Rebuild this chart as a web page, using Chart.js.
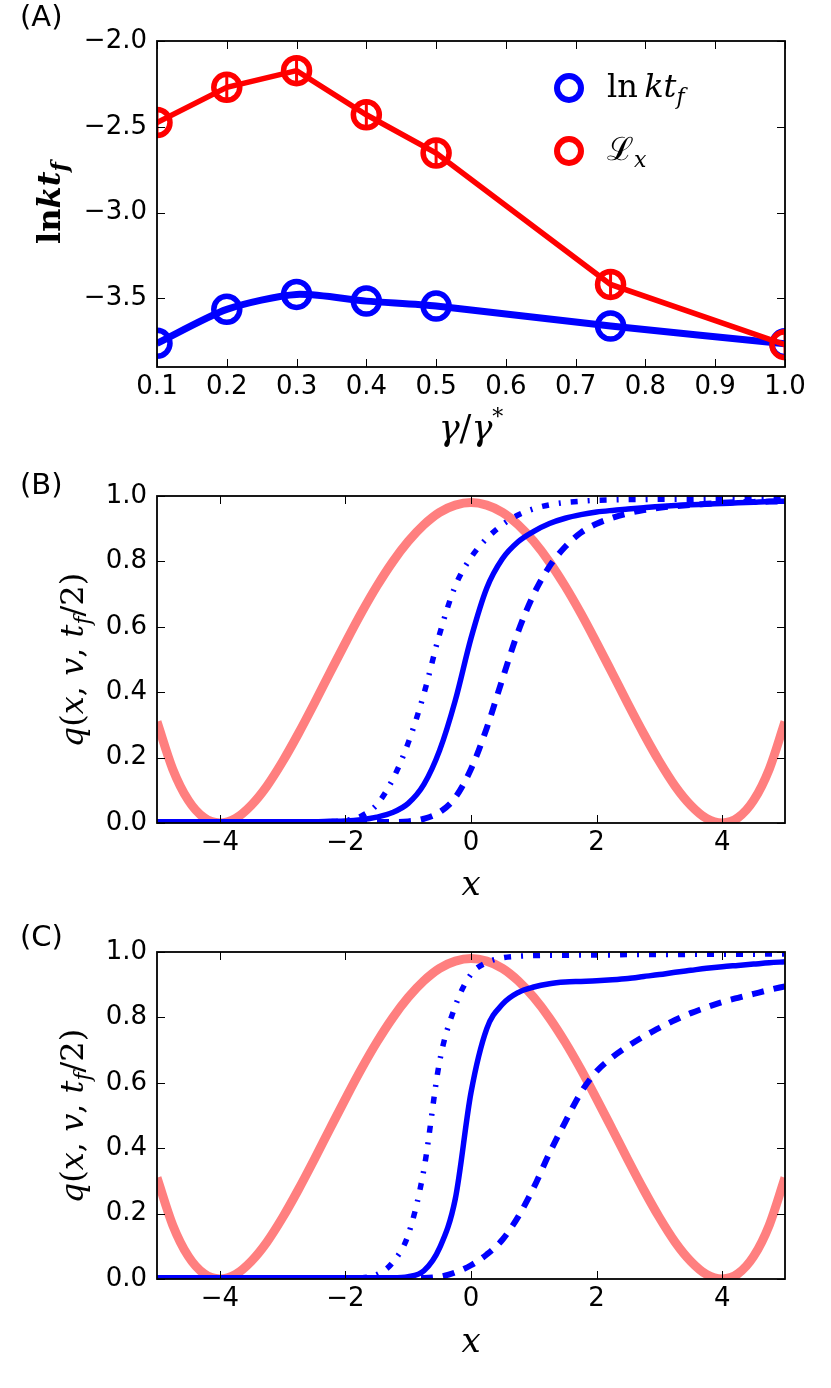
<!DOCTYPE html>
<html>
<head>
<meta charset="utf-8">
<script src="https://cdn.jsdelivr.net/npm/chart.js@4.4.0/dist/chart.umd.min.js"></script>
<style>
html,body{margin:0;padding:0;background:#fff;}
#wrap{position:relative;width:831px;height:1388px;background:#fff;}
.pane{position:absolute;left:0;width:831px;}
canvas{display:block;}
</style>
</head>
<body>
<div id="wrap">
  <div class="pane" style="top:0px;height:460px"><canvas id="cA" width="831" height="460" style="width:831px;height:460px"></canvas></div>
  <div class="pane" style="top:460px;height:460px"><canvas id="cB" width="831" height="460" style="width:831px;height:460px"></canvas></div>
  <div class="pane" style="top:920px;height:468px"><canvas id="cC" width="831" height="468" style="width:831px;height:468px"></canvas></div>
</div>
<script>
// ---------------- DATA ----------------
// Panel A
const gammaRatio = [0.1, 0.2, 0.3, 0.4, 0.5, 0.75, 1.0];
const lnKtf      = [-3.762, -3.564, -3.477, -3.516, -3.545, -3.661, -3.765];
const lossX      = [-2.475, -2.270, -2.173, -2.430, -2.653, -3.419, -3.770];
const lossXErr   = [0.07, 0.07, 0.07, 0.07, 0.07, 0.07, 0.07];
const xTicksA    = [0.1, 0.2, 0.3, 0.4, 0.5, 0.6, 0.7, 0.8, 0.9, 1.0];
const yTicksA    = [-3.5, -3.0, -2.5, -2.0];

// Panels B and C (shared x grid)
const xGrid = [-5,-4.75,-4.5,-4.25,-4,-3.75,-3.5,-3.25,-3,-2.75,-2.5,-2.25,-2,-1.75,-1.5,-1.25,-1,-0.75,-0.5,-0.25,0,0.25,0.5,0.75,1,1.25,1.5,1.75,2,2.25,2.5,2.75,3,3.25,3.5,3.75,4,4.25,4.5,4.75,5];
const potential = [0.310,0.165,0.069,0.016,0.000,0.014,0.054,0.113,0.188,0.273,0.364,0.458,0.551,0.641,0.724,0.798,0.861,0.912,0.950,0.972,0.980,0.972,0.950,0.912,0.861,0.798,0.724,0.641,0.551,0.458,0.364,0.273,0.188,0.113,0.054,0.014,0.000,0.016,0.069,0.165,0.310];

const qSolidB   = [0.004,0.004,0.004,0.004,0.004,0.004,0.004,0.004,0.004,0.004,0.004,0.005,0.006,0.010,0.018,0.032,0.060,0.118,0.222,0.375,0.565,0.718,0.808,0.860,0.892,0.916,0.932,0.943,0.951,0.956,0.960,0.964,0.968,0.971,0.973,0.975,0.977,0.979,0.981,0.983,0.984];
const qDashDotB = [0.003,0.003,0.003,0.003,0.003,0.003,0.003,0.003,0.003,0.003,0.003,0.004,0.008,0.021,0.056,0.132,0.245,0.395,0.578,0.725,0.812,0.870,0.912,0.942,0.961,0.973,0.980,0.984,0.987,0.988,0.989,0.989,0.990,0.990,0.990,0.991,0.991,0.991,0.992,0.992,0.992];
const qDashedB  = [0.003,0.003,0.003,0.003,0.003,0.003,0.003,0.003,0.003,0.003,0.003,0.003,0.003,0.003,0.003,0.003,0.005,0.013,0.033,0.078,0.165,0.290,0.440,0.585,0.700,0.785,0.845,0.888,0.915,0.933,0.947,0.957,0.964,0.969,0.973,0.976,0.979,0.981,0.982,0.983,0.984];

const qSolidC   = [0.004,0.004,0.004,0.004,0.004,0.004,0.004,0.004,0.004,0.004,0.004,0.004,0.004,0.004,0.004,0.004,0.007,0.025,0.095,0.245,0.570,0.765,0.840,0.876,0.893,0.903,0.908,0.910,0.912,0.915,0.919,0.925,0.931,0.938,0.944,0.950,0.955,0.959,0.963,0.967,0.970];
const qDashDotC = [0.002,0.002,0.002,0.002,0.002,0.002,0.002,0.002,0.002,0.002,0.002,0.002,0.002,0.004,0.013,0.050,0.135,0.335,0.665,0.835,0.932,0.968,0.982,0.987,0.989,0.990,0.990,0.991,0.991,0.991,0.992,0.992,0.992,0.992,0.993,0.993,0.993,0.993,0.993,0.994,0.994];
const qDashedC  = [0.003,0.003,0.003,0.003,0.003,0.003,0.003,0.003,0.003,0.003,0.003,0.003,0.003,0.003,0.003,0.003,0.003,0.003,0.007,0.020,0.042,0.075,0.120,0.190,0.280,0.385,0.480,0.570,0.635,0.678,0.712,0.742,0.768,0.792,0.813,0.831,0.847,0.860,0.872,0.884,0.895];

const xTicksBC = [-4, -2, 0, 2, 4];
const yTicksBC = [0.0, 0.2, 0.4, 0.6, 0.8, 1.0];

// ---------------- HELPERS ----------------
const SANS = 'DejaVu Sans';
const SERIF = 'DejaVu Serif';
const BLUE = '#0000ff';
const RED = '#ff0000';
const SALMON = '#ff7f7f';
const MINUS = '\u2212';

function fmt1(v){ const s = Math.abs(v).toFixed(1); return (v < -1e-9 ? MINUS : '') + s; }
function fmt0(v){ const s = Math.abs(Math.round(v)).toString(); return (v < -1e-9 ? MINUS : '') + s; }
function pts(xs, ys){ return xs.map((x, i) => ({x: x, y: ys[i]})); }

function fontStr(p){
  return (p.it ? 'italic ' : '') + (p.b ? 'bold ' : '') + (p.s || 32) + 'px "' + (p.f || SERIF) + '"';
}
function richText(ctx, parts, x, y, align, rot){
  ctx.save();
  ctx.translate(x, y);
  if (rot) ctx.rotate(rot);
  ctx.textBaseline = 'alphabetic';
  ctx.textAlign = 'left';
  ctx.fillStyle = '#000';
  let total = 0;
  const ws = parts.map(p => { ctx.font = fontStr(p); const w = ctx.measureText(p.t).width + (p.dx || 0); total += w; return w; });
  let cx = align === 'center' ? -total / 2 : 0;
  parts.forEach((p, i) => { ctx.font = fontStr(p); ctx.fillText(p.t, cx + (p.dx || 0), p.dy || 0); cx += ws[i]; });
  ctx.restore();
}

const framePlugin = {
  id: 'frame',
  afterDatasetsDraw(chart){
    const ctx = chart.ctx, a = chart.chartArea, xs = chart.scales.x, ys = chart.scales.y;
    const L = 8;
    ctx.save();
    ctx.strokeStyle = '#000';
    ctx.lineWidth = 1;
    ctx.beginPath();
    xs.ticks.forEach(t => {
      const px = Math.round(xs.getPixelForValue(t.value)) + 0.5;
      ctx.moveTo(px, a.bottom); ctx.lineTo(px, a.bottom - L);
      ctx.moveTo(px, a.top); ctx.lineTo(px, a.top + L);
    });
    ys.ticks.forEach(t => {
      const py = Math.round(ys.getPixelForValue(t.value)) + 0.5;
      ctx.moveTo(a.left, py); ctx.lineTo(a.left + L, py);
      ctx.moveTo(a.right, py); ctx.lineTo(a.right - L, py);
    });
    ctx.stroke();
    ctx.lineWidth = 1.8;
    ctx.strokeRect(a.left, a.top, a.right - a.left, a.bottom - a.top);
    ctx.restore();
  }
};

function makeScales(H, bottom, xr, yr, xt, yt, xf, yf){
  const tickFont = {family: SANS, size: 26};
  return {
    x: {
      type: 'linear', min: xr[0], max: xr[1],
      afterBuildTicks: s => { s.ticks = xt.map(v => ({value: v})); },
      afterFit: s => { s.height = H - bottom; },
      ticks: {font: tickFont, color: '#000', padding: 5, maxRotation: 0, autoSkip: false, callback: v => xf(v)},
      grid: {display: false, drawTicks: false},
      border: {display: false}
    },
    y: {
      type: 'linear', min: yr[0], max: yr[1],
      afterBuildTicks: s => { s.ticks = yt.map(v => ({value: v})); },
      afterFit: s => { s.width = 157; },
      ticks: {font: tickFont, color: '#000', padding: 10, autoSkip: false, callback: v => yf(v)},
      grid: {display: false, drawTicks: false},
      border: {display: false}
    }
  };
}

function baseOptions(top, scales){
  return {
    responsive: false,
    animation: false,
    events: [],
    layout: {padding: {top: top, right: 46, left: 0, bottom: 0}},
    plugins: {legend: {display: false}, tooltip: {enabled: false}, title: {display: false}},
    scales: scales
  };
}

// ---------------- PANEL A ----------------
const errPlugin = {
  id: 'errA',
  beforeDatasetsDraw(chart){
    const ctx = chart.ctx, a = chart.chartArea, xs = chart.scales.x, ys = chart.scales.y;
    ctx.save();
    ctx.beginPath(); ctx.rect(a.left, a.top, a.right - a.left, a.bottom - a.top); ctx.clip();
    ctx.strokeStyle = RED; ctx.lineWidth = 3;
    ctx.beginPath();
    gammaRatio.forEach((g, i) => {
      const px = xs.getPixelForValue(g);
      const p1 = ys.getPixelForValue(lossX[i] - lossXErr[i]);
      const p2 = ys.getPixelForValue(lossX[i] + lossXErr[i]);
      ctx.moveTo(px, p1); ctx.lineTo(px, p2);
      ctx.moveTo(px - 6, p1); ctx.lineTo(px + 6, p1);
      ctx.moveTo(px - 6, p2); ctx.lineTo(px + 6, p2);
    });
    ctx.stroke();
    ctx.restore();
  }
};
const decorA = {
  id: 'decorA',
  afterDraw(chart){
    const ctx = chart.ctx;
    richText(ctx, [{t: '(A)', f: SANS, s: 29}], 20, 26, 'left');
    // legend
    ctx.save();
    ctx.lineWidth = 6;
    ctx.strokeStyle = BLUE; ctx.beginPath(); ctx.arc(569, 88, 12, 0, 2 * Math.PI); ctx.stroke();
    ctx.strokeStyle = RED;  ctx.beginPath(); ctx.arc(569, 151, 12, 0, 2 * Math.PI); ctx.stroke();
    ctx.restore();
    richText(ctx, [{t: 'ln', s: 32}, {t: ' ', s: 20}, {t: 'kt', it: true, s: 32}, {t: 'f', it: true, s: 22, dy: 7}], 607, 97, 'left');
    richText(ctx, [{t: '\u2112', s: 32}, {t: 'x', it: true, s: 22, dy: 7}], 607, 160, 'left');
    // axis titles
    richText(ctx, [{t: 'γ', it: true, s: 35}, {t: '/', s: 35}, {t: 'γ', it: true, s: 35}, {t: '*', s: 22, dy: -16}], 471, 440, 'center');
    richText(ctx, [{t: 'ln', b: true, s: 32}, {t: 'kt', b: true, it: true, s: 32}, {t: 'f', b: true, it: true, s: 22, dy: 7}], 60, 203, 'center', -Math.PI / 2);
  }
};

new Chart(document.getElementById('cA'), {
  type: 'line',
  data: {
    datasets: [
      {label: 'L_x', data: pts(gammaRatio, lossX), borderColor: RED, borderWidth: 5.5, pointRadius: 13,
       pointBorderWidth: 5.5, pointBorderColor: RED, pointBackgroundColor: 'rgba(0,0,0,0)', tension: 0, clip: 0, order: 0},
      {label: 'ln kt_f', data: pts(gammaRatio, lnKtf), borderColor: BLUE, borderWidth: 7, pointRadius: 13,
       pointBorderWidth: 5.5, pointBorderColor: BLUE, pointBackgroundColor: 'rgba(0,0,0,0)', tension: 0.25, clip: 0, order: 1}
    ]
  },
  options: baseOptions(41, makeScales(460, 367, [0.1, 1.0], [-3.9, -2.0], xTicksA, yTicksA, fmt1, fmt1)),
  plugins: [errPlugin, framePlugin, decorA]
});

// ---------------- PANELS B, C ----------------
function qDatasets(solid, dashdot, dashed){
  const common = {pointRadius: 0, cubicInterpolationMode: 'monotone', clip: 0, borderCapStyle: 'butt'};
  return [
    Object.assign({label: 'dashdot', data: pts(xGrid, dashdot), borderColor: BLUE, borderWidth: 5.5, borderDash: [7, 10, 2, 10], order: 0}, common),
    Object.assign({label: 'solid', data: pts(xGrid, solid), borderColor: BLUE, borderWidth: 5.5, order: 1}, common),
    Object.assign({label: 'dashed', data: pts(xGrid, dashed), borderColor: BLUE, borderWidth: 6, borderDash: [12, 10], order: 2}, common),
    Object.assign({label: 'potential', data: pts(xGrid, potential), borderColor: SALMON, borderWidth: 9, order: 3}, common)
  ];
}
function qDecor(letter, letterBase, titleY, xTitleBase){
  return {
    id: 'decor' + letter,
    afterDraw(chart){
      const ctx = chart.ctx;
      richText(ctx, [{t: '(' + letter + ')', f: SANS, s: 29}], 20, letterBase, 'left');
      richText(ctx, [{t: 'x', it: true, s: 34}], 471, xTitleBase, 'center');
      richText(ctx, [
        {t: 'q', it: true, s: 32}, {t: '(', s: 32}, {t: 'x', it: true, s: 32}, {t: ', ', s: 32},
        {t: 'v', it: true, s: 32}, {t: ', ', s: 32}, {t: 't', it: true, s: 32},
        {t: 'f', it: true, s: 22, dy: 7}, {t: '/2)', s: 32}
      ], 83, titleY, 'center', -Math.PI / 2);
    }
  };
}

new Chart(document.getElementById('cB'), {
  type: 'line',
  data: {datasets: qDatasets(qSolidB, qDashDotB, qDashedB)},
  options: baseOptions(36, makeScales(460, 363, [-5, 5], [0, 1], xTicksBC, yTicksBC, fmt0, fmt1)),
  plugins: [framePlugin, qDecor('B', 34, 200, 435)]
});

new Chart(document.getElementById('cC'), {
  type: 'line',
  data: {datasets: qDatasets(qSolidC, qDashDotC, qDashedC)},
  options: baseOptions(32, makeScales(468, 359, [-5, 5], [0, 1], xTicksBC, yTicksBC, fmt0, fmt1)),
  plugins: [framePlugin, qDecor('C', 26, 196, 432)]
});
</script>
</body>
</html>
